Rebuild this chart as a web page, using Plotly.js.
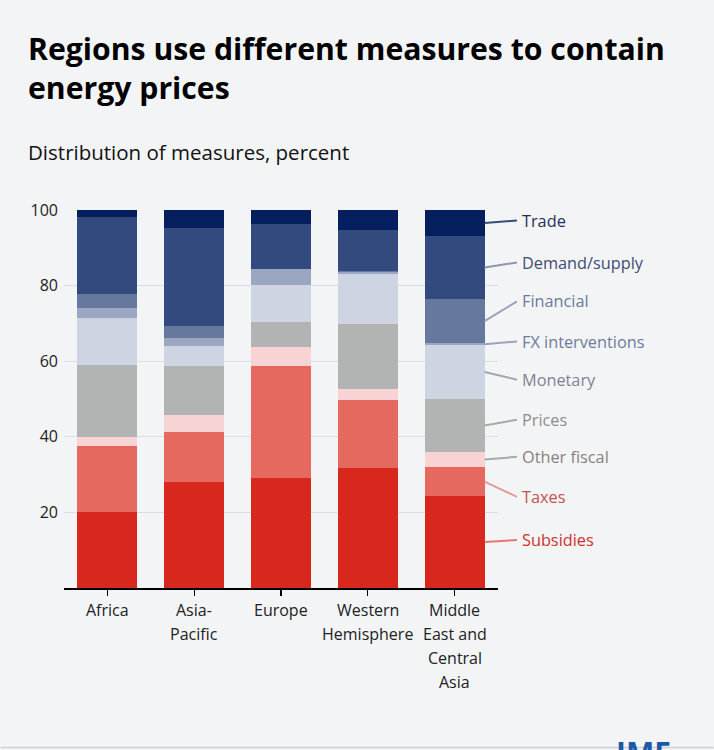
<!DOCTYPE html>
<html>
<head>
<meta charset="utf-8">
<script src="https://cdn.plot.ly/plotly-3.0.1.min.js"></script>
<style>
  html, body { margin: 0; padding: 0; background: #f3f4f6; overflow: hidden; }
  #chart { width: 714px; height: 750px; }
</style>
</head>
<body>
<div id="chart"></div>
<script>
// Regions and their (multi-line) tick labels
const regions = ["Africa", "Asia-Pacific", "Europe", "Western Hemisphere", "Middle East and Central Asia"];
const regionTicks = ["Africa", "Asia-<br>Pacific", "Europe", "Western<br>Hemisphere", "Middle<br>East and<br>Central<br>Asia"];

// Share of each measure by region, percent (stacked bottom to top)
const subsidies    = [20.2, 28.0, 29.1, 31.7, 24.3];
const taxes        = [17.4, 13.3, 29.6, 18.0,  7.7];
const otherFiscal  = [ 2.4,  4.5,  5.1,  2.9,  4.0];
const prices       = [18.9, 13.0,  6.6, 17.2, 14.0];
const monetary     = [12.6,  5.2,  9.8, 13.3, 14.3];
const fxInterv     = [ 2.7,  2.2,  4.1,  0.4,  0.4];
const financial    = [ 3.5,  3.0,  0.0,  0.4, 11.8];
const demandSupply = [20.4, 26.0, 12.0, 10.8, 16.6];
const trade        = [ 1.9,  4.8,  3.7,  5.3,  6.9];

const seriesNames  = ["Subsidies", "Taxes", "Other fiscal", "Prices", "Monetary", "FX interventions", "Financial", "Demand/supply", "Trade"];
const seriesValues = [subsidies, taxes, otherFiscal, prices, monetary, fxInterv, financial, demandSupply, trade];
const yTicks = [20, 40, 60, 80, 100];

// Styling
const barColors   = ["#d8281d", "#e5695f", "#f8d3d3", "#b2b4b3", "#cfd4e2", "#9ba6c0", "#67789f", "#334a7e", "#041e5e"];
const labelColors = ["#d02f2c", "#c4504e", "#8a7e80", "#8b8d91", "#7c8294", "#6e7b9b", "#6b7a9c", "#3f4c74", "#1f2f5f"];
const leaderColors= ["#e5786f", "#e39c98", "#a9a9a9", "#a9a9a9", "#a2a6b2", "#9aa3bb", "#9aa3bb", "#8d96b0", "#3a4a78"];
// vertical position (percent scale) of each side label
const labelY = [12.7, 24.1, 34.7, 44.5, 55.1, 65.2, 75.8, 86.1, 97.2];

const FONT = "'Open Sans', Lato, sans-serif";
const W = 714, H = 750;
const M = { l: 63.5, r: 216, t: 210, b: 162 };
const PW = W - M.l - M.r, PH = H - M.t - M.b;
const pxX = px => (px - M.l) / PW;
const pxY = py => (H - M.b - py) / PH;

const BAR_W = 0.69;
const nCat = regions.length;

const traces = seriesNames.map((name, i) => ({
  type: "bar",
  name: name,
  x: regions,
  y: seriesValues[i],
  width: BAR_W,
  marker: { color: barColors[i], line: { width: 0 } },
  hoverinfo: "x+y+name"
}));

const annotations = [];
const shapes = [];

// category labels under the axis, one line at a time for even spacing
regionTicks.forEach((lbl, c) => {
  lbl.split("<br>").forEach((line, k) => {
    annotations.push({
      xref: "x", yref: "paper", x: regions[c], y: pxY(610 + 24 * k),
      xanchor: "center", yanchor: "middle", showarrow: false,
      text: line,
      font: { family: FONT, size: 16, color: "#222222" }
    });
  });
});

// side labels for the last bar, with leader lines from each segment's middle
const lastIdx = nCat - 1;
let cum = 0;
seriesNames.forEach((name, i) => {
  const v = seriesValues[i][lastIdx];
  const mid = cum + v / 2;
  cum += v;
  const xStart = (lastIdx + BAR_W / 2 + 0.5) / nCat;   // right edge of last bar, paper units
  shapes.push({
    type: "line", xref: "paper", yref: "paper",
    x0: xStart, y0: mid / 100,
    x1: pxX(517), y1: labelY[i] / 100,
    line: { color: leaderColors[i], width: 2 }
  });
  annotations.push({
    xref: "paper", yref: "paper",
    x: pxX(520), y: labelY[i] / 100,
    xanchor: "left", yanchor: "middle",
    text: name, showarrow: false,
    font: { family: FONT, size: 16.3, color: labelColors[i] }
  });
});

// headings
annotations.push({
  xref: "paper", yref: "paper", x: pxX(25), y: pxY(26),
  xanchor: "left", yanchor: "top", align: "left", showarrow: false,
  text: "<b>Regions use different measures to contain<br>energy prices</b>",
  font: { family: FONT, size: 30.2, color: "#000000" }
});
annotations.push({
  xref: "paper", yref: "paper", x: pxX(25), y: pxY(136),
  xanchor: "left", yanchor: "top", showarrow: false,
  text: "Distribution of measures, percent",
  font: { family: FONT, size: 20.5, color: "#111111" }
});
// footer (runs off the bottom edge)
annotations.push({
  xref: "paper", yref: "paper", x: pxX(22), y: pxY(745),
  xanchor: "left", yanchor: "top", showarrow: false,
  text: "Source: IMF staff calculations.",
  font: { family: FONT, size: 13, color: "#8a8a8a" }
});
annotations.push({
  xref: "paper", yref: "paper", x: pxX(614), y: pxY(730),
  xanchor: "left", yanchor: "top", showarrow: false,
  text: "<b>IMF</b>",
  font: { family: FONT, size: 30, color: "#1d5aa6" }
});
shapes.push({
  type: "line", xref: "paper", yref: "paper",
  x0: pxX(0), x1: pxX(W), y0: pxY(747.5), y1: pxY(747.5),
  line: { color: "#cfd0d3", width: 1.5 }
});

const layout = {
  width: W, height: H,
  margin: M,
  paper_bgcolor: "#f3f4f6",
  plot_bgcolor: "#f3f4f6",
  barmode: "stack",
  bargap: 0.31,
  showlegend: false,
  font: { family: FONT, size: 16, color: "#222222" },
  xaxis: {
    type: "category",
    range: [-0.5, nCat - 0.5],
    showticklabels: false,
    showline: true, linecolor: "#000000", linewidth: 1.5,
    ticks: "outside", ticklen: 6, tickcolor: "#000000", tickwidth: 1.2,
    showgrid: false, fixedrange: true
  },
  yaxis: {
    range: [0, 100],
    tickvals: yTicks,
    showgrid: true, gridcolor: "#dcdde0", gridwidth: 1,
    zeroline: false, showline: false, ticks: "",
    ticklabelstandoff: 5,
    fixedrange: true,
    tickfont: { family: FONT, size: 16, color: "#222222" }
  },
  shapes: shapes,
  annotations: annotations
};

Plotly.newPlot("chart", traces, layout, { displayModeBar: false, staticPlot: true });
</script>
</body>
</html>
